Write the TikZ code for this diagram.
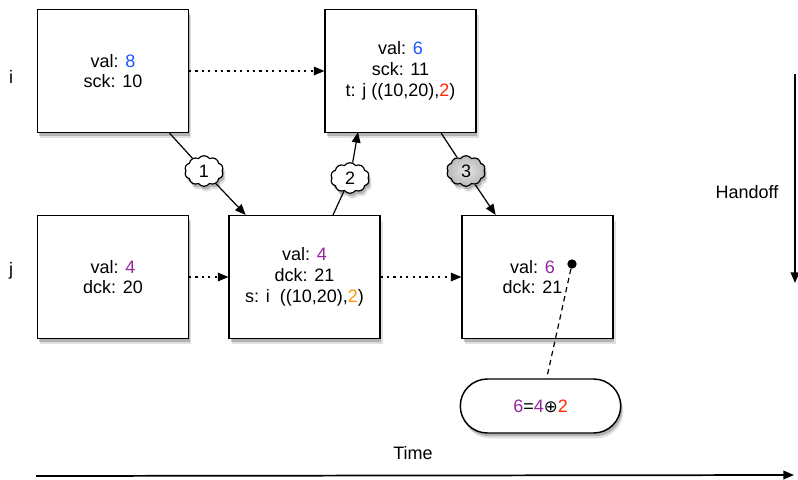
\documentclass[tikz,border=0pt]{standalone}
\usepackage{fontspec}
\setmainfont{Liberation Sans}
\newfontfamily\symfont{DejaVu Sans}
\usetikzlibrary{shapes.symbols,shapes.misc,shadows,arrows.meta}
\definecolor{valblue}{RGB}{30,85,255}
\definecolor{valpurple}{RGB}{150,40,160}
\definecolor{tagred}{RGB}{255,40,10}
\definecolor{tagorange}{RGB}{255,150,0}
\begin{document}
\begin{tikzpicture}[x=0.75pt,y=-0.75pt,
  txt/.style={font=\fontsize{13.5}{15.5}\selectfont},
  softshadow/.style={
    general shadow={shadow xshift=1.2pt,shadow yshift=-2.4pt,fill=black,opacity=0.2},
    general shadow={shadow xshift=2pt,shadow yshift=-4pt,fill=black,opacity=0.12}},
  statebox/.style={txt,draw,line width=1.1pt,fill=white,align=center,
    minimum width=113pt,minimum height=92pt,inner sep=0pt,softshadow},
  msgcloud/.style={txt,cloud,cloud puffs=10,cloud puff arc=110,aspect=1.3,draw,
    line width=0.9pt,fill=white,inner sep=0.5pt,minimum width=29pt,minimum height=23pt,softshadow},
  pillbox/.style={txt,rounded rectangle,draw,line width=1.1pt,fill=white,
    minimum width=127pt,minimum height=40.5pt,softshadow},
  tip/.style={-{Triangle[length=8pt,width=6.5pt]}},
  msgline/.style={tip,line width=0.9pt},
  stepline/.style={tip,line width=0.9pt,dash pattern=on 1.6pt off 3.2pt},
  axisline/.style={tip,line width=1.3pt}]

\useasboundingbox (0,0) rectangle (798,479);

% process labels
\node[txt] (li) at (11,77) {i};
\node[txt] (lj) at (11,271) {j};

% states of i (top row) and j (bottom row)
\node[statebox] (i1) at (113,71) {val: \textcolor{valblue}{8}\\sck: 10};
\node[statebox] (i2) at (400.5,71) {val: \textcolor{valblue}{6}\\sck: 11\\t: j ((10,20),\textcolor{tagred}{2})};
\node[statebox] (j1) at (113,277) {val: \textcolor{valpurple}{4}\\dck: 20};
\node[statebox] (j2) at (304.5,277) {val: \textcolor{valpurple}{4}\\dck: 21\\s: i\ \ ((10,20),\textcolor{tagorange}{2})};
\node[statebox] (j3) at (537.5,277) {val: \textcolor{valpurple}{6}\ \ \ \\dck: 21\ \ \ };

% messages
\node[msgcloud] (c1) at (204,171) {1};
\node[msgcloud] (c2) at (350,178) {2};
\node[msgcloud,inner color=gray!20,outer color=gray!55] (c3) at (466,171) {3};

% local steps
\draw[stepline] (i1) -- (i2);
\draw[stepline] (j1) -- (j2);
\draw[stepline] (j2) -- (j3);

% message exchange
\draw[line width=0.9pt] (i1) -- (c1);
\draw[msgline] (c1) -- (j2);
\draw[line width=0.9pt] (j2) -- (c2);
\coordinate (i2in) at (358,132);
\draw[msgline] (c2) -- (i2in);
\draw[line width=0.9pt] (i2) -- (c3);
\draw[msgline] (c3) -- (j3);

% merged value annotation
\node[circle,fill=black,inner sep=0pt,minimum size=7pt] (dot) at (572,264) {};
\node[pillbox] (pill) at (540.5,406) {\textcolor{valpurple}{6}=\textcolor{valpurple}{4}{\symfont\fontsize{12.5}{14}\selectfont ⊕}\textcolor{tagred}{2}};
\draw[line width=0.9pt,dash pattern=on 4pt off 3pt] (dot) -- (pill);

% axes
\coordinate (hs) at (795,74);
\coordinate (he) at (795,283);
\draw[axisline] (hs) -- (he);
\node[txt] (hand) at (747,192) {Handoff};
\coordinate (ts) at (36,476);
\coordinate (te) at (794,475);
\draw[axisline] (ts) -- (te);
\node[txt] (time) at (413,453) {Time};
\end{tikzpicture}
\end{document}
